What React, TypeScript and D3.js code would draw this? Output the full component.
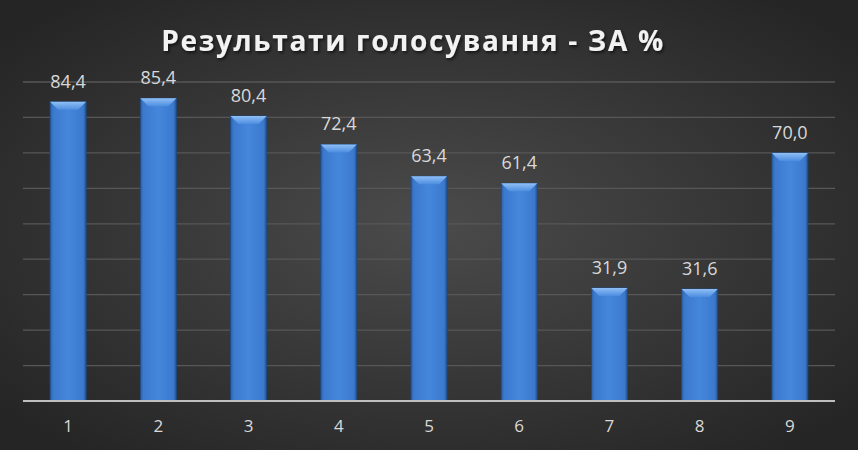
import { useEffect, useRef } from "react";
import * as d3 from "d3";

const categories = ["1", "2", "3", "4", "5", "6", "7", "8", "9"];
const values = [84.4, 85.4, 80.4, 72.4, 63.4, 61.4, 31.9, 31.6, 70.0];
const gridTicks = [10, 20, 30, 40, 50, 60, 70, 80, 90];
const title = "Результати голосування - ЗА %";

const W = 858;
const H = 450;

export default function App() {
  const svgRef = useRef<SVGSVGElement>(null);

  useEffect(() => {
    const svg = d3.select(svgRef.current);
    svg.selectAll("*").remove();

    const margin = { top: 82, right: 23, bottom: 49, left: 23 };
    const width = W - margin.left - margin.right;
    const height = H - margin.top - margin.bottom;

    const defs = svg.append("defs");

    // background radial gradient
    const bg = defs
      .append("radialGradient")
      .attr("id", "bg")
      .attr("cx", "50%")
      .attr("cy", "50%")
      .attr("r", "65%");
    bg.append("stop").attr("offset", "0%").attr("stop-color", "#4b4b4b");
    bg.append("stop").attr("offset", "100%").attr("stop-color", "#252525");

    // bar body gradient (horizontal)
    const bar = defs
      .append("linearGradient")
      .attr("id", "bar")
      .attr("x1", "0")
      .attr("x2", "1")
      .attr("y1", "0")
      .attr("y2", "0");
    bar.append("stop").attr("offset", "0%").attr("stop-color", "#2a5da3");
    bar.append("stop").attr("offset", "8%").attr("stop-color", "#3b79cd");
    bar.append("stop").attr("offset", "50%").attr("stop-color", "#4587dc");
    bar.append("stop").attr("offset", "92%").attr("stop-color", "#3b79cd");
    bar.append("stop").attr("offset", "100%").attr("stop-color", "#24528f");

    const bevel = defs
      .append("linearGradient")
      .attr("id", "bevel")
      .attr("x1", "0")
      .attr("x2", "0")
      .attr("y1", "0")
      .attr("y2", "1");
    bevel.append("stop").attr("offset", "0%").attr("stop-color", "#8fbff5");
    bevel.append("stop").attr("offset", "100%").attr("stop-color", "#4d8de0");

    const shadow = defs.append("filter").attr("id", "ts").attr("x", "-5%").attr("y", "-30%").attr("width", "110%").attr("height", "160%");
    shadow
      .append("feDropShadow")
      .attr("dx", 1.5)
      .attr("dy", 2)
      .attr("stdDeviation", 1.5)
      .attr("flood-color", "#000")
      .attr("flood-opacity", 0.6);

    svg.append("rect").attr("width", W).attr("height", H).attr("fill", "url(#bg)");

    const x = d3.scaleBand().domain(categories).range([0, width]).paddingInner(0.6).paddingOuter(0.3);
    const y = d3.scaleLinear().domain([0, 90]).range([height, 0]);

    const g = svg.append("g").attr("transform", `translate(${margin.left},${margin.top})`);

    // gridlines
    g.selectAll("line.grid")
      .data(gridTicks)
      .join("line")
      .attr("class", "grid")
      .attr("x1", 0)
      .attr("x2", width)
      .attr("y1", (d) => y(d))
      .attr("y2", (d) => y(d))
      .attr("stroke", "#575757")
      .attr("stroke-width", 1.3);

    // bars
    const bw = x.bandwidth();
    const bars = g
      .selectAll("g.bar")
      .data(values)
      .join("g")
      .attr("class", "bar")
      .attr("transform", (_, i) => `translate(${x(categories[i])},0)`);

    bars
      .append("rect")
      .attr("x", 0)
      .attr("y", (d) => y(d))
      .attr("width", bw)
      .attr("height", (d) => y(0) - y(d))
      .attr("fill", "url(#bar)")
      .attr("stroke", "#1f4a85")
      .attr("stroke-width", 0.8);

    const bv = 8;
    bars
      .append("path")
      .attr("d", (d) => {
        const t = y(d);
        return `M0,${t}L${bw},${t}L${bw - bv},${t + bv}L${bv},${t + bv}Z`;
      })
      .attr("fill", "url(#bevel)");

    // value labels
    g.selectAll("text.val")
      .data(values)
      .join("text")
      .attr("class", "val")
      .attr("x", (_, i) => x(categories[i])! + bw / 2)
      .attr("y", (d) => y(d) - 14)
      .attr("text-anchor", "middle")
      .attr("fill", "#d9d9d9")
      .style("font-family", "'Open Sans', sans-serif")
      .style("font-size", "18px")
      .text((d) => d.toFixed(1).replace(".", ","));

    // baseline
    g.append("line")
      .attr("x1", 0)
      .attr("x2", width)
      .attr("y1", y(0))
      .attr("y2", y(0))
      .attr("stroke", "#bfbfbf")
      .attr("stroke-width", 1.8);

    // x labels
    g.selectAll("text.cat")
      .data(categories)
      .join("text")
      .attr("class", "cat")
      .attr("x", (d) => x(d)! + bw / 2)
      .attr("y", height + 31)
      .attr("text-anchor", "middle")
      .attr("fill", "#d9d9d9")
      .style("font-family", "'Open Sans', sans-serif")
      .style("font-size", "17px")
      .text((d) => d);

    // title
    svg
      .append("text")
      .attr("x", 413)
      .attr("y", 51)
      .attr("text-anchor", "middle")
      .attr("fill", "#f2f2f2")
      .attr("filter", "url(#ts)")
      .style("font-family", "'Open Sans', sans-serif")
      .style("font-size", "28px")
      .style("font-weight", "bold")
      .style("letter-spacing", "1.7px")
      .text(title);
  }, []);

  return (
    <svg
      ref={svgRef}
      width={W}
      height={H}
      style={{ position: "absolute", left: 0, top: 0, display: "block" }}
    />
  );
}
